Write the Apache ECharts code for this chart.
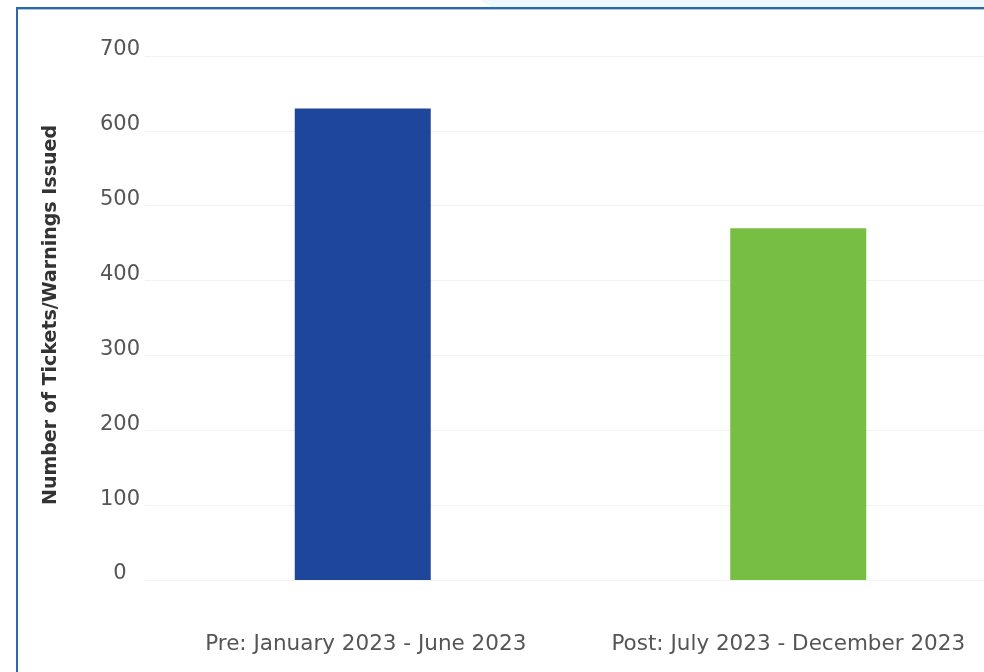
<!DOCTYPE html>
<html>
<head>
<meta charset="utf-8">
<script src="https://cdn.jsdelivr.net/npm/echarts@6/dist/echarts.min.js"></script>
<style>
html,body{margin:0;padding:0;background:#fff;}
#chart{width:984px;height:672px;}
</style>
</head>
<body>
<div id="chart"></div>
<script>
const categories = ["Pre: January 2023 - June 2023", "Post: July 2023 - December 2023"];
const values = [630, 470];
const barColors = ["#1e479c", "#77bf43"];
const yTicks = [0, 100, 200, 300, 400, 500, 600, 700];
const yTitle = "Number of Tickets/Warnings Issued";

const chart = echarts.init(document.getElementById('chart'), null, {renderer: 'canvas'});
chart.setOption({
  animation: false,
  backgroundColor: '#ffffff',
  grid: {left: 145, top: 56, bottom: 92, width: 871, outerBoundsMode: 'none', containLabel: false},
  graphic: [
    {type: 'polygon', shape: {points: [[480,0],[984,0],[984,7],[491,7]]}, style: {fill: '#eef8fd'}, silent: true},
    {type: 'rect', shape: {x: 16, y: 7, width: 968, height: 2}, style: {fill: '#2c69a8'}, silent: true},
    {type: 'rect', shape: {x: 16, y: 9, width: 968, height: 1}, style: {fill: '#a9c6e4'}, silent: true},
    {type: 'rect', shape: {x: 16, y: 7, width: 2, height: 665}, style: {fill: '#2c69a8'}, silent: true},
    {type: 'text', x: 51, y: 315, rotation: Math.PI/2,
      style: {text: yTitle, font: 'bold 19px "DejaVu Sans"', fill: '#333333', align: 'center', verticalAlign: 'middle'},
      silent: true}
  ],
  xAxis: {
    type: 'category',
    data: categories,
    axisLine: {show: false},
    axisTick: {show: false},
    axisLabel: {
      color: '#555555', fontSize: 21.5, fontFamily: 'DejaVu Sans', margin: 53, interval: 0,
      formatter: (v, i) => i === 1 ? '{p|' + v + '}' : '{q|' + v + '}',
      rich: {
        p: {color: '#555555', fontSize: 21.5, fontFamily: 'DejaVu Sans', padding: [0, 20, 0, 0]},
        q: {color: '#555555', fontSize: 21.5, fontFamily: 'DejaVu Sans', padding: [0, 0, 0, 6]}
      }
    }
  },
  yAxis: {
    type: 'value',
    min: yTicks[0],
    max: yTicks[yTicks.length - 1],
    interval: 100,
    axisLine: {show: false},
    axisTick: {show: false},
    axisLabel: {color: '#555555', fontSize: 21, fontFamily: 'DejaVu Sans', align: 'center', margin: 25,
      verticalAlign: 'bottom', lineHeight: 12},
    splitLine: {lineStyle: {color: '#f2f2f2', width: 1}}
  },
  series: [{
    type: 'bar',
    data: values.map((v, i) => ({value: v, itemStyle: {color: barColors[i]}})),
    barWidth: 136
  }]
});
</script>
</body>
</html>
